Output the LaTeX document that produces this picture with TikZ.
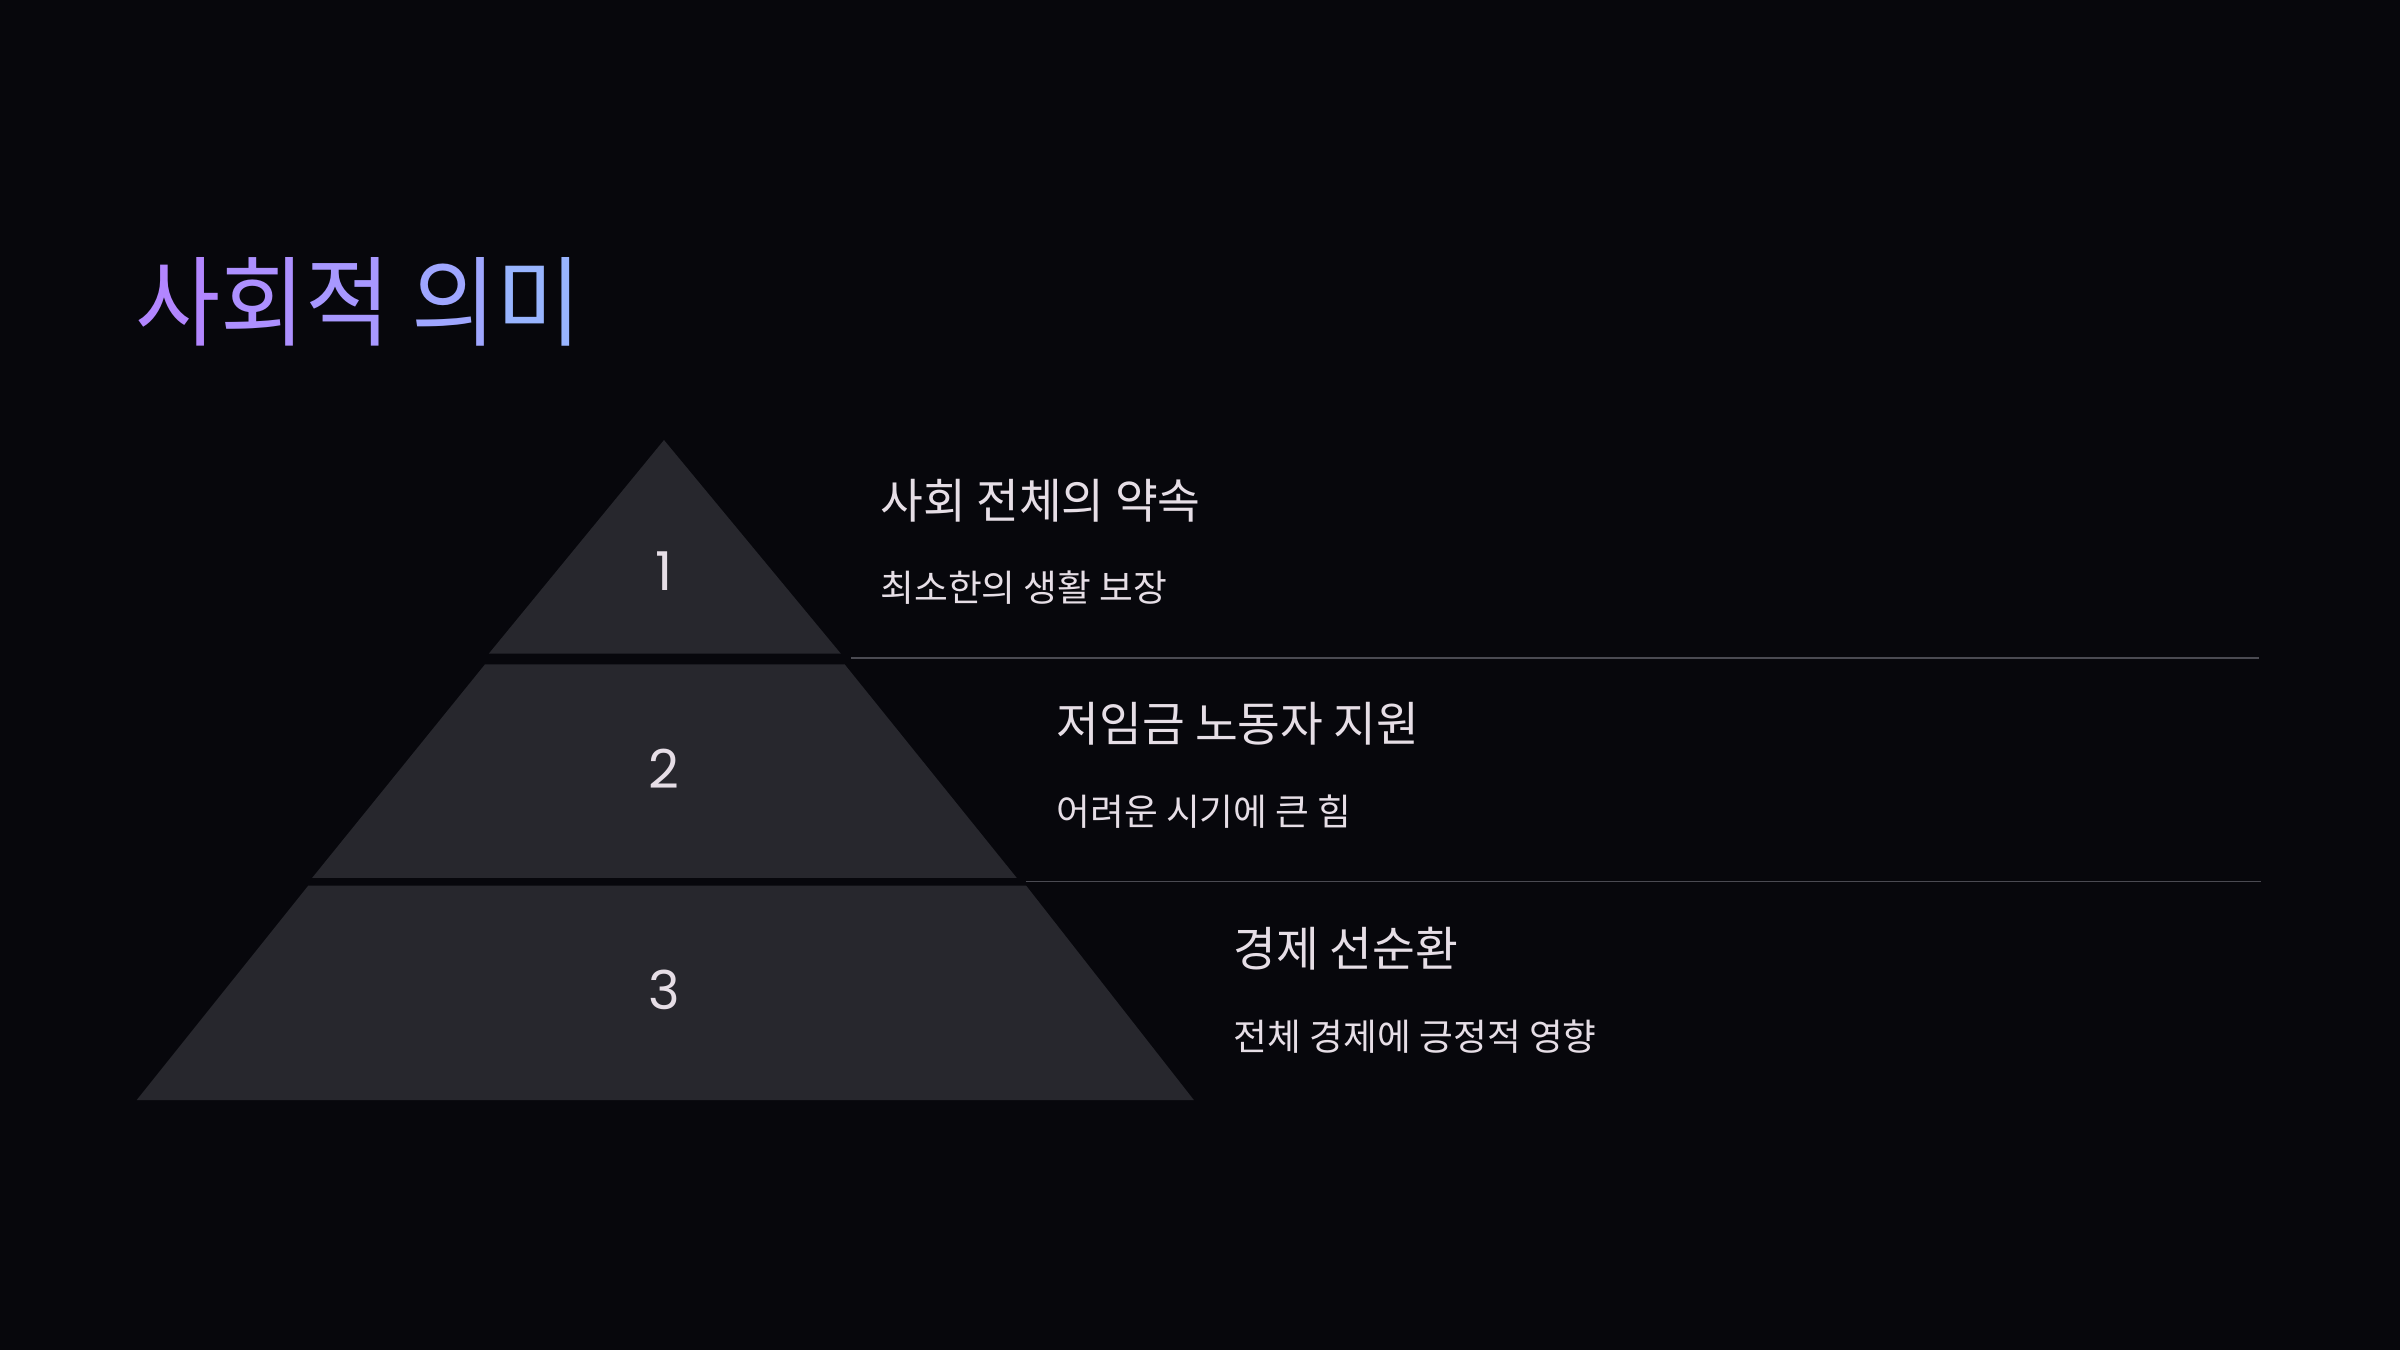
\documentclass[tikz,border=0pt]{standalone}
\usepackage{fontspec}
\newfontfamily\krt[FakeStretch=0.945]{Noto Sans CJK KR}
\newfontfamily\krh[FakeStretch=0.98]{Noto Sans CJK KR}
\newfontfamily\krs{Noto Sans CJK KR}
\newfontfamily\digits{Poppins}
\definecolor{bg}{HTML}{07070C}
\definecolor{tier}{HTML}{27272D}
\definecolor{txt}{HTML}{E6DEE6}
\definecolor{rule}{HTML}{4A4A52}
\definecolor{tA}{HTML}{B286FF}
\definecolor{tB}{HTML}{AD90FF}
\definecolor{tC}{HTML}{A898FF}
\definecolor{tD}{HTML}{9FA6FF}
\definecolor{tE}{HTML}{98B4FF}
\tikzset{
  tierbox/.style={fill=tier, draw=none},
  num/.style={text=txt, font=\digits\fontsize{35}{40}\selectfont, inner sep=0pt},
  head/.style={text=txt, anchor=west, inner sep=0pt, font=\krh\fontsize{31}{36}\selectfont},
  sub/.style={text=txt, anchor=west, inner sep=0pt, font=\krs\fontsize{24}{28}\selectfont},
  sep/.style={draw=rule, line width=1pt},
}
\begin{document}
\begin{tikzpicture}[x=1pt,y=-1pt]
\fill[bg] (0,0) rectangle (1568,882);
\useasboundingbox (0,0) rectangle (1568,882);
% title
\node[anchor=west, inner sep=0pt, font=\krt\fontsize{64}{70}\selectfont] (title) at (88,197)
  {\textcolor{tA}{사}\textcolor{tB}{회}\textcolor{tC}{적} \textcolor{tD}{의}\textcolor{tE}{미}};
% tiers
\fill[tierbox] (433.8,287.5) -- (549.3,427) -- (319.4,427) -- cycle;
\fill[tierbox] (316.9,434) -- (551.8,434) -- (664.3,573.6) -- (203.9,573.6) -- cycle;
\fill[tierbox] (201.4,578.6) -- (670.4,578.6) -- (780,718.7) -- (89.3,718.7) -- cycle;
\node[num] (n1) at (434,373) {1};
\node[num] (n2) at (434,502) {2};
\node[num] (n3) at (434,647) {3};
% texts
\node[head] (h1) at (575,327) {사회 전체의 약속};
\node[sub]  (s1) at (575,384) {최소한의 생활 보장};
\node[head] (h2) at (690,473) {저임금 노동자 지원};
\node[sub]  (s2) at (690,530) {어려운 시기에 큰 힘};
\node[head] (h3) at (806,620) {경제 선순환};
\node[sub]  (s3) at (806,677) {전체 경제에 긍정적 영향};
% rules
\coordinate (r1a) at (556,430); \coordinate (r1b) at (1476,430);
\coordinate (r2a) at (670,576); \coordinate (r2b) at (1477,576);
\draw[sep] (r1a) -- (r1b);
\draw[sep] (r2a) -- (r2b);
\end{tikzpicture}
\end{document}
